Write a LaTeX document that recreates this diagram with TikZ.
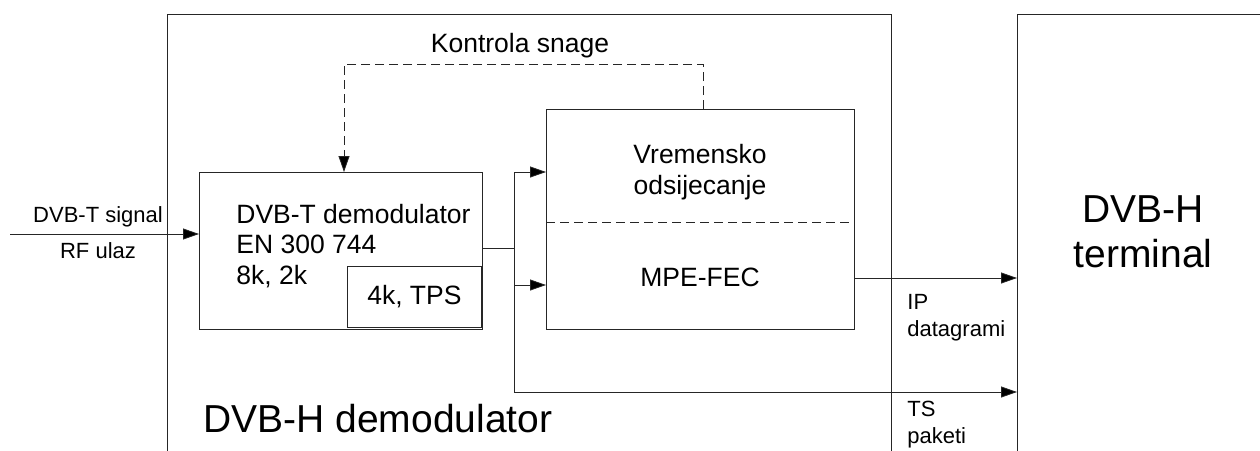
\documentclass[tikz,border=0pt]{standalone}
\usepackage{fontspec}
\setmainfont{Liberation Sans}
\usetikzlibrary{arrows.meta}

\begin{document}
\begin{tikzpicture}[x=1pt,y=-1pt,line width=0.8pt,draw=black!85,
        blok/.style={draw, rectangle, inner sep=0pt, anchor=north west},
        srednji/.style={font=\fontsize{26.5}{30.5}\selectfont, inner sep=0pt},
        mali/.style={font=\fontsize{22}{27}\selectfont, inner sep=0pt},
        veliki/.style={font=\fontsize{39}{45}\selectfont, inner sep=0pt},
        strelica/.style={-{Triangle[length=16pt,width=11pt,fill=black]}}]
        \useasboundingbox (0,0) rectangle (1260,450);
        \clip (0,0) rectangle (1260,450);

        % okviri
        \node[blok, minimum width=724pt, minimum height=480pt] (demodH) at (167,14) {};
        \node[blok, minimum width=300pt, minimum height=480pt] (term) at (1017,14) {};
        \node[veliki, anchor=base west] (demodHtxt) at (203,432) {DVB-H demodulator};
        \node[veliki, align=center] (termtxt) at (1143,231.5) {DVB-H\\terminal};

        % blokovi
        \node[blok, minimum width=283pt, minimum height=157pt] (demodT) at (199,172) {};
        \node[blok, minimum width=134pt, minimum height=61pt] (tps) at (347,266) {};
        \node[blok, minimum width=308pt, minimum height=220pt] (mpe) at (546,109) {};
        \coordinate (crta) at (0,222);
        \draw[dash pattern=on 9pt off 5pt] (mpe.west |- crta) -- (mpe.east |- crta);

        \node[srednji, anchor=west, align=left] (demodTtxt) at (236,246) {DVB-T demodulator\\EN 300 744\\8k, 2k};
        \node[srednji] (tpstxt) at (tps.center) {4k, TPS};
        \node[srednji, align=center] (vremtxt) at (700,172) {Vremensko\\odsijecanje};
        \node[srednji] (fectxt) at (700,277.5) {MPE-FEC};

        % ulaz
        \coordinate (rfin) at (10,234);
        \draw[strelica] (rfin) -- (rfin -| demodT.west);
        \node[mali, anchor=base] (sig) at (98,222) {DVB-T signal};
        \node[mali, anchor=base] (rf) at (98,258) {RF ulaz};

        % grananje
        \coordinate (cvor) at (514,248);
        \coordinate (grana) at (514,172);
        \coordinate (fec) at (514,285);
        \coordinate (ts) at (514,392);
        \coordinate (ip) at (0,278);
        \draw (demodT.east |- cvor) -- (cvor);
        \draw (grana) -- (ts);
        \draw[strelica] (grana) -- (grana -| mpe.west);
        \draw[strelica] (fec) -- (fec -| mpe.west);
        \draw[strelica] (mpe.east |- ip) -- (ip -| term.west);
        \draw[strelica] (ts) -- (ts -| term.west);
        \node[mali, anchor=west, align=left] (iptxt) at (907,317.5) {IP\\datagrami};
        \node[mali, anchor=west, align=left] (tstxt) at (907,425) {TS\\paketi};

        % kontrola snage
        \coordinate (kontD) at (703,64);
        \coordinate (kontL) at (344,64);
        \draw[dash pattern=on 9pt off 5pt, strelica] (kontD |- mpe.north) -- (kontD) -- (kontL) -- (kontL |- demodT.north);
        \node[srednji] (kontxt) at (520,46) {Kontrola snage};
\end{tikzpicture}
\end{document}
